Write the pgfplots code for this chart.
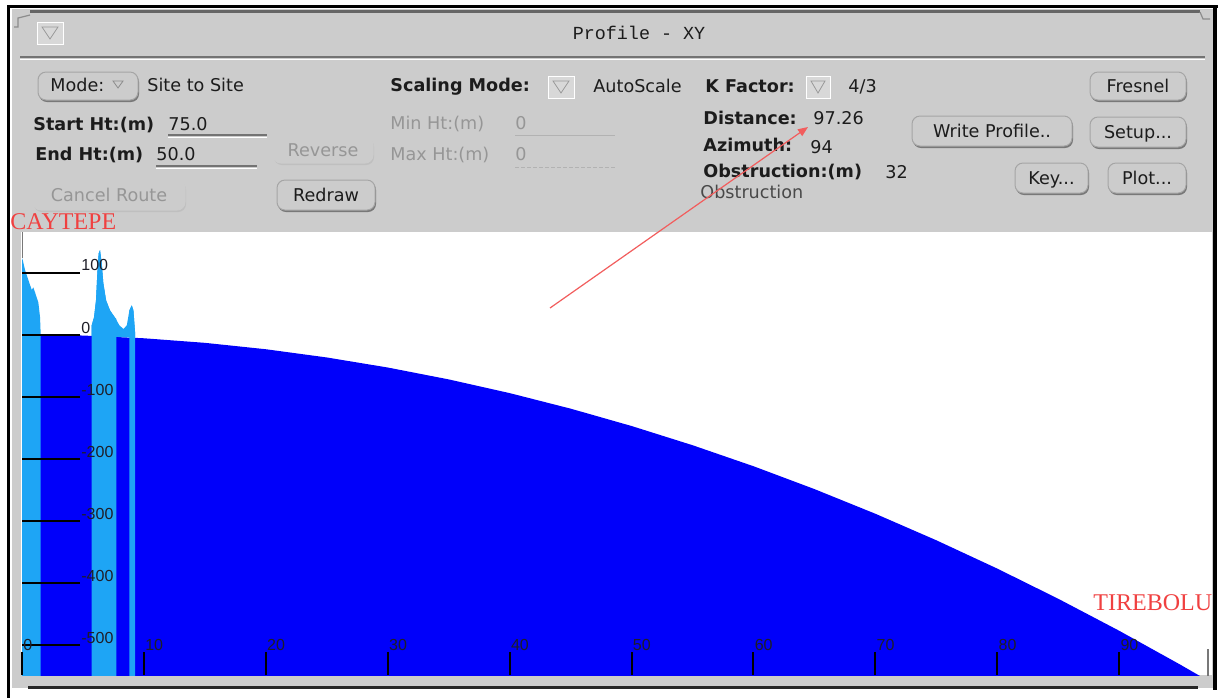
\documentclass[border=0pt]{standalone}
\usepackage{pgfplots}
\pgfplotsset{compat=1.18}
\usepackage{fontspec}
\setmainfont{DejaVu Sans}
\newfontfamily\monofont{Liberation Mono}
\newfontfamily\sitefont{Liberation Serif}
\newfontfamily\tickfont{Liberation Sans}
\usetikzlibrary{arrows.meta}

\definecolor{panel}{RGB}{204,204,204}
\definecolor{boxfill}{RGB}{216,216,216}
\definecolor{sea}{RGB}{0,0,250}
\definecolor{land}{RGB}{30,165,245}
\definecolor{sitered}{RGB}{240,64,64}
\definecolor{dimtext}{RGB}{150,150,150}
\definecolor{btnedge}{RGB}{165,165,165}
\definecolor{btnshadow}{RGB}{120,120,120}
\definecolor{labeltext}{RGB}{28,28,28}
\definecolor{ticktext}{RGB}{30,30,40}
\definecolor{antenna}{RGB}{120,120,120}

\newcommand{\gui}{\fontsize{8.8}{10}\selectfont}

% rounded push button: [text colour]{x1}{y1}{x2}{y2}{label}
\newcommand{\guibutton}[6][labeltext]{%
  \fill[btnshadow, rounded corners=4pt] (#2+1,#3+2) rectangle (#4+1,#5+2);
  \filldraw[fill=panel, draw=btnedge, line width=0.5pt, rounded corners=4pt] (#2,#3) rectangle (#4,#5);
  \node[anchor=base, inner sep=0, font=\gui, text=#1] at ({(#2+#4)/2},{(#3+#5)/2+6}) {#6};}
% inactive button
\newcommand{\dimbutton}[5]{%
  \fill[black!25, rounded corners=4pt] (#1+1,#2+2) rectangle (#3+1,#4+2);
  \filldraw[fill=panel, draw=black!20, line width=0.5pt, rounded corners=4pt] (#1,#2) rectangle (#3,#4);
  \node[anchor=base, inner sep=0, font=\gui, text=dimtext] at ({(#1+#3)/2},{(#2+#4)/2+6}) {#5};}
% small option-menu box with a down triangle
\newcommand{\menubox}[4]{%
  \fill[black!50] (#1+1,#2+1) rectangle (#3+1,#4+1);
  \filldraw[fill=boxfill, draw=white, line width=0.4pt] (#1,#2) rectangle (#3,#4);
  \draw[black!40, line width=0.4pt] ({#1+5},{#2+5}) -- ({#3-5},{#2+5}) -- ({(#1+#3)/2},{#4-5}) -- cycle;}

\begin{document}
\begin{tikzpicture}
\begin{scope}[x=0.5pt,y=-0.5pt]
  \path[use as bounding box, fill=white] (0,0) rectangle (1218,698);
  % window body
  \fill[panel] (12,9) rectangle (1213,688);
  \fill[white] (21,232) rectangle (1212,675);
  % frame
  \fill[black] (7,5) rectangle (1218,8);
  \fill[black] (7,5) rectangle (10,698);
  \fill[black] (1213,8) rectangle (1217,690);
  \fill[black!85] (28,686) rectangle (1198,689);
  % title bar
  \fill[black!60] (30,10) rectangle (1200,13);
  \draw[black!45, line width=0.6pt] (14,27) -- (18,27) -- (18,18) -- (30,15);
  \draw[black!45, line width=0.6pt] (1200,12) -- (1203,19) -- (1210,19);
  \menubox{37}{22}{63}{44}
  \node[anchor=base, inner sep=0, font=\monofont\fontsize{9.2}{10}\selectfont, text=labeltext] at (639,39) {Profile - XY};
  \draw[black!55, line width=0.8pt] (20,57) -- (1205,57);
  \draw[white, line width=0.5pt] (20,59.5) -- (1205,59.5);

  % first row
  \guibutton{38}{72}{138}{100}{}
  \node[anchor=base west, inner sep=0, font=\gui, text=labeltext] at (50,91) {Mode:};
  \draw[black!45, line width=0.4pt] (113,81) -- (123,81) -- (118,88) -- cycle;
  \node[anchor=base west, inner sep=0, font=\gui, text=labeltext] at (147,91) {Site to Site};
  \node[anchor=base west, inner sep=0, font=\gui\bfseries, text=labeltext] at (390,91) {Scaling Mode:};
  \menubox{548}{76}{574}{98}
  \node[anchor=base west, inner sep=0, font=\gui, text=labeltext] at (593,92) {AutoScale};
  \node[anchor=base west, inner sep=0, font=\gui\bfseries, text=labeltext] at (705,92) {K Factor:};
  \menubox{806}{76}{830}{98}
  \node[anchor=base west, inner sep=0, font=\gui, text=labeltext] at (848,92) {4/3};
  \guibutton{1090}{72}{1186}{100}{Fresnel}

  % second row
  \node[anchor=base west, inner sep=0, font=\gui\bfseries, text=labeltext] at (33,130) {Start Ht:(m)};
  \node[anchor=base west, inner sep=0, font=\gui, text=labeltext] at (168,130) {75.0};
  \draw[black!55, line width=0.6pt] (168,135) -- (267,135);
  \draw[white, line width=0.4pt] (168,137) -- (267,137);
  \node[anchor=base west, inner sep=0, font=\gui, text=dimtext] at (390,129) {Min Ht:(m)};
  \node[anchor=base west, inner sep=0, font=\gui, text=dimtext] at (515,129) {0};
  \draw[black!30, line width=0.5pt] (515,135) -- (615,135);
  \node[anchor=base west, inner sep=0, font=\gui\bfseries, text=labeltext] at (703,124) {Distance:};
  \node[anchor=base west, inner sep=0, font=\gui, text=labeltext] at (813,124) {97.26};
  \guibutton{912}{116}{1072}{146}{Write Profile..}
  \guibutton{1090}{117}{1186}{147}{Setup...}

  % third row
  \node[anchor=base west, inner sep=0, font=\gui\bfseries, text=labeltext] at (35,160) {End Ht:(m)};
  \node[anchor=base west, inner sep=0, font=\gui, text=labeltext] at (156,160) {50.0};
  \draw[black!55, line width=0.6pt] (156,166) -- (257,166);
  \draw[white, line width=0.4pt] (156,168) -- (257,168);
  \dimbutton{273}{137}{373}{163}{Reverse}
  \node[anchor=base west, inner sep=0, font=\gui, text=dimtext] at (390,160) {Max Ht:(m)};
  \node[anchor=base west, inner sep=0, font=\gui, text=dimtext] at (515,160) {0};
  \draw[black!30, line width=0.5pt, dash pattern=on 2pt off 1pt] (515,167) -- (615,167);
  \node[anchor=base west, inner sep=0, font=\gui\bfseries, text=labeltext] at (703,151) {Azimuth:};
  \node[anchor=base west, inner sep=0, font=\gui, text=labeltext] at (810,153) {94};

  % fourth and fifth rows
  \node[anchor=base west, inner sep=0, font=\gui\bfseries, text=labeltext] at (703,177) {Obstruction:(m)};
  \node[anchor=base west, inner sep=0, font=\gui, text=labeltext] at (885,178) {32};
  \guibutton{1015}{163}{1088}{193}{Key...}
  \guibutton{1108}{163}{1186}{193}{Plot...}
  \dimbutton{33}{180}{185}{210}{Cancel Route}
  \guibutton{277}{180}{375}{210}{Redraw}
  \node[anchor=base west, inner sep=0, font=\gui, text=labeltext!80] at (700,198) {Obstruction};
\end{scope}

\begin{axis}[
  at={(11pt,-337.5pt)}, anchor=south west,
  scale only axis, width=595pt, height=221.5pt,
  xmin=0, xmax=97.62, ymin=-548.1, ymax=165.2,
  axis line style={draw=none},
  xtick={0,10,...,90}, ytick={-500,-400,...,100},
  tick pos=left, tick align=inside,
  xtick style={/pgfplots/major tick length=11.5pt, draw=black, line width=1pt},
  ytick style={/pgfplots/major tick length=29pt, draw=black, line width=1pt},
  /pgf/number format/assume math mode=true,
  ticklabel style={font=\tickfont\fontsize{8}{9}\selectfont, text=ticktext, inner sep=0.5pt},
  xticklabel style={anchor=south west, yshift=11.5pt},
  yticklabel style={anchor=south west, xshift=29pt},
  axis on top,
]
  % sea surface following the 4/3 earth bulge
  \addplot[fill=sea, draw=none] coordinates {
    (0,-600) (0,0) (5,-1.47) (10,-5.89) (15,-13.24) (20,-23.54) (25,-36.79)
    (30,-52.97) (35,-72.10) (40,-94.18) (45,-119.19) (50,-147.15) (55,-178.06)
    (60,-211.90) (65,-248.69) (70,-288.42) (75,-331.10) (80,-376.71)
    (85,-425.27) (90,-476.78) (95,-531.22) (97.26,-556.80) (97.26,-600)} -- cycle;
  % coastal terrain above the surface
  \addplot[fill=land, draw=none] coordinates {
    (5.72,-2) (5.72,15) (5.91,28) (6.07,55) (6.18,99) (6.29,131) (6.40,136)
    (6.54,115) (6.67,83) (6.90,55) (7.22,39) (7.64,27) (7.99,15) (8.32,9)
    (8.60,15) (8.81,39) (9.00,47) (9.14,39) (9.28,2) (9.28,-5)} -- cycle;
  % land columns
  \addplot[fill=land, draw=none] coordinates {
    (0,-600) (0,123) (0.06,120) (0.25,104) (0.52,88) (0.80,72) (0.93,76)
    (1.07,68) (1.34,52) (1.48,28) (1.53,2) (1.53,-600)} -- cycle;
  \addplot[fill=land, draw=none] coordinates {
    (5.72,-600) (5.72,15) (5.91,28) (6.07,55) (6.18,99) (6.29,131) (6.40,136)
    (6.54,115) (6.67,83) (6.90,55) (7.22,39) (7.64,27) (7.75,25) (7.75,-600)} -- cycle;
  \addplot[fill=land, draw=none] coordinates {
    (8.81,-600) (8.81,39) (9.00,47) (9.14,39) (9.28,2) (9.28,-600)} -- cycle;
  % antenna masts at both sites
  \addplot[draw=antenna, line width=1pt] coordinates {(0,123) (0,198)};
  \addplot[draw=antenna, line width=1pt] coordinates {(97.26,-556.8) (97.26,-506.8)};
\end{axis}

\begin{scope}[x=0.5pt,y=-0.5pt]
  \node[anchor=base west, inner sep=0, font=\sitefont\fontsize{12}{12}\selectfont, text=sitered] at (10,229) {CAYTEPE};
  \node[anchor=base west, inner sep=0, font=\sitefont\fontsize{12}{12}\selectfont, text=sitered] at (1093,610) {TIREBOLU};
  \draw[sitered!85, line width=0.6pt, -{Triangle[length=5pt,width=4pt]}] (550,308) -- (808,127);
\end{scope}
\end{tikzpicture}
\end{document}
